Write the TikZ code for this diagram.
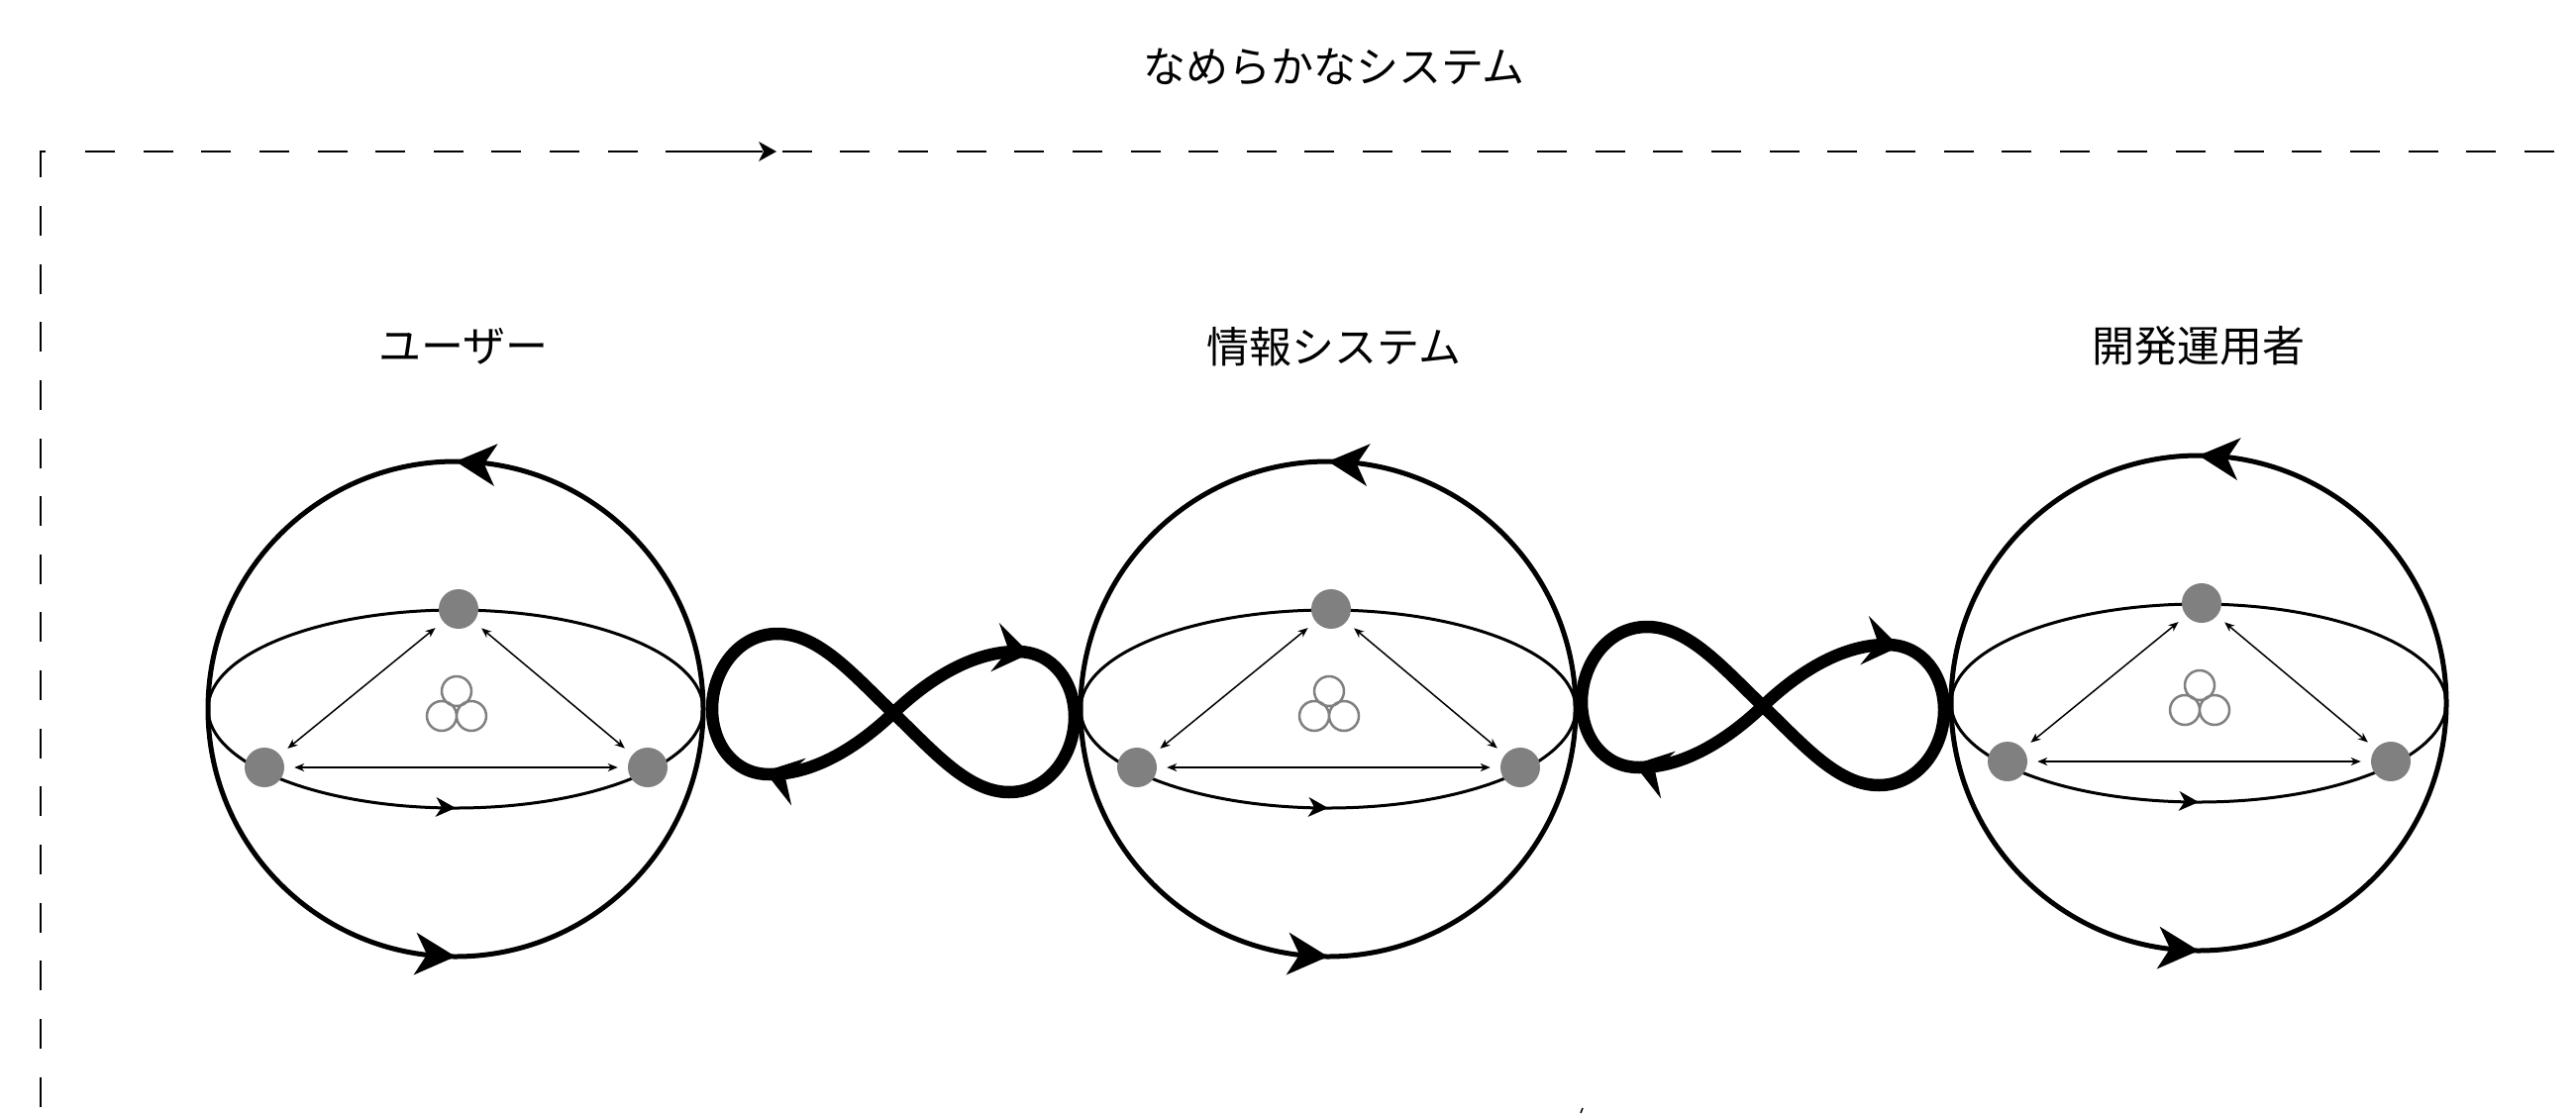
\documentclass[tikz,border=0pt]{standalone}
\usepackage{fontspec}
\newfontfamily\jp{Noto Sans CJK JP}
\usetikzlibrary{arrows.meta}
\begin{document}
\begin{tikzpicture}[x=1pt,y=-1pt,
  sphereline/.style={line width=5pt},
  equator/.style={line width=3pt},
  graydot/.style={circle, fill=gray, minimum size=40pt, inner sep=0pt},
  tri/.style={line width=1.5pt, {Stealth[length=10pt,width=8pt,inset=3pt]}-{Stealth[length=10pt,width=8pt,inset=3pt]}, shorten <=10pt, shorten >=10pt},
  ring/.style={draw=gray, line width=2.5pt},
  eightline/.style={line width=12.5pt, line join=round},
  dashframe/.style={line width=2.6pt, dash pattern=on 30pt off 28.64pt},
  txt/.style={font=\jp\fontsize{43}{50}\selectfont, inner sep=0pt},
  pics/ahead/.style n args={3}{code={\fill (0,0) -- (-#1,#2/2) -- (-#1+#3,0) -- (-#1,-#2/2) -- cycle;}}
]
\fill[white] (0,0) rectangle (2601,1124);
\useasboundingbox (0,0) rectangle (2601,1124);

% title and labels
\node[txt] (title) at (1347,68) {なめらかなシステム};
\node[txt] (lab1) at (468,350) {ユーザー};
\node[txt] (lab2) at (1347,350) {情報システム};
\node[txt] (lab3) at (2220,349) {開発運用者};

% dashed frame
\draw[dashframe] (86,153) -- (2650,153);
\draw[dashframe] (41,208) -- (41,1160);
\draw[line width=2.6pt] (41,179) -- (41,153) -- (46,153);
\draw[line width=2.6pt] (676,153) -- (770,153);
\pic at (784,153) {ahead={18}{20}{5}};

% spheres
\foreach \n/\cx/\cy in {1/460/716,2/1341/716,3/2220/710}{
  \begin{scope}[shift={(\cx,\cy)}]
    \draw[sphereline] (0,0) circle[radius=250];
    \draw[equator] (0,0) ellipse[x radius=250, y radius=100];
    \node[graydot] (t\n) at (3,-101) {};
    \node[graydot] (l\n) at (-193,59) {};
    \node[graydot] (r\n) at (194,59) {};
    \draw[tri] (t\n) -- (l\n);
    \draw[tri] (t\n) -- (r\n);
    \draw[tri] (l\n) -- (r\n);
    \draw[ring] (1,-18) circle[radius=15] (-14,7) circle[radius=15] (16,7) circle[radius=15];
    \pic[rotate=175] at (0,-250) {ahead={41}{43}{12}};
    \pic[rotate=-4] at (0,250) {ahead={41}{43}{12}};
    \pic[rotate=-3] at (0,100) {ahead={20}{20}{6}};
  \end{scope}
}

% figure-eights
\foreach \n/\ox/\oy in {1/902/720,2/1780/713}{
  \begin{scope}[shift={(\ox,\oy)}]
    \draw[eightline] (0,0) .. controls (42,-40) and (85,-62) .. (125,-62)
      .. controls (162,-62) and (183,-30) .. (183,4)
      .. controls (183,42) and (157,80) .. (117,80)
      .. controls (75,80) and (40,38) .. (0,0)
      .. controls (-40,-38) and (-75,-80) .. (-117,-80)
      .. controls (-157,-80) and (-183,-42) .. (-183,-4)
      .. controls (-183,30) and (-162,62) .. (-125,62)
      .. controls (-85,62) and (-42,40) .. cycle;
    \pic[rotate=-10] at (138,-60) {ahead={36}{50}{14}};
    \pic[rotate=163] at (-130,59) {ahead={36}{50}{14}};
  \end{scope}
}

% small mark at the bottom edge
\draw[line width=1.5pt] (1596,1124) -- (1598,1119);
\end{tikzpicture}
\end{document}
